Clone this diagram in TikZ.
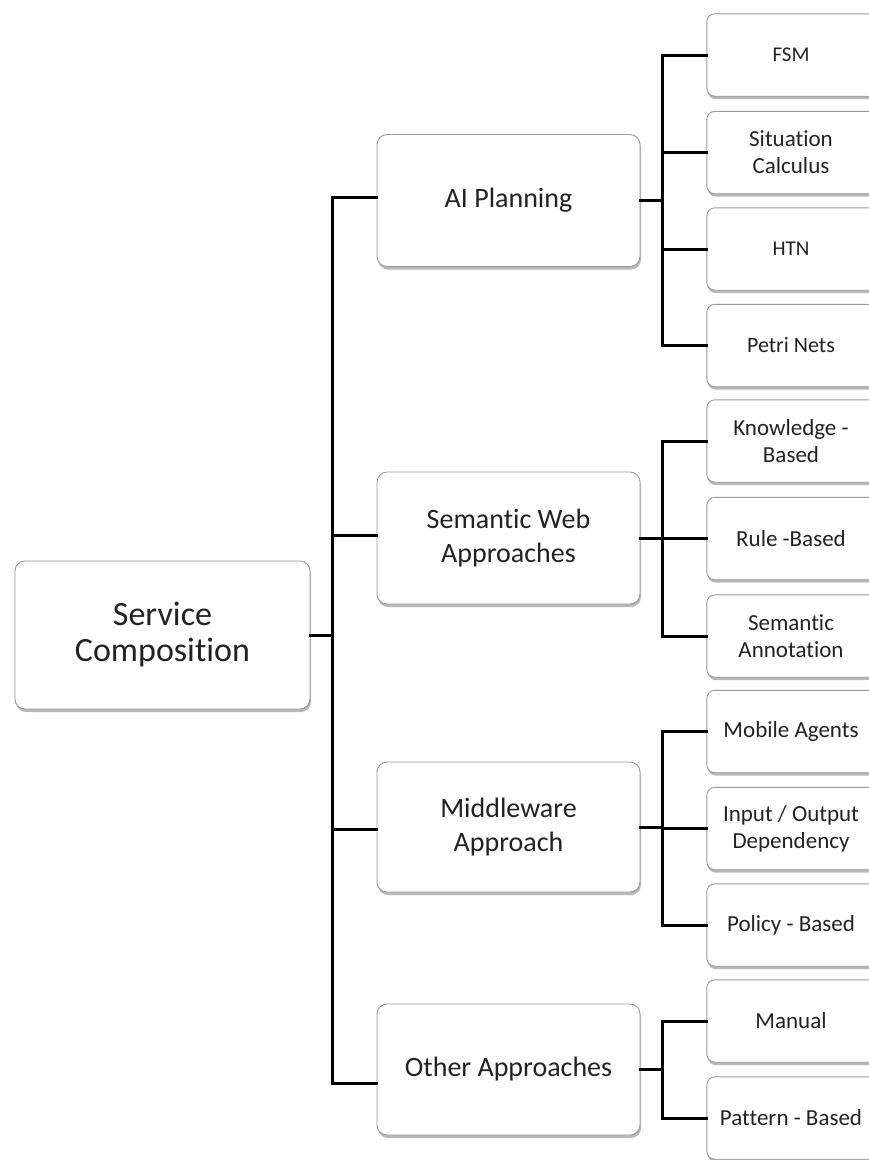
\documentclass[tikz,border=0pt]{standalone}
\usepackage{fontspec}
\setmainfont{Carlito}[Ligatures=NoCommon]
\usetikzlibrary{shadows,calc,backgrounds}
\definecolor{txt}{HTML}{222222}
\definecolor{edge}{HTML}{9A9A9A}
\begin{document}
\begin{tikzpicture}[x=1pt,y=-1pt,
  boxshape/.style={draw=edge, line width=0.9pt, fill=white, rounded corners=10pt,
    drop shadow={shadow xshift=1pt, shadow yshift=-3pt, fill=black, opacity=0.28}},
  box/.style={boxshape, align=center, text=txt, inner sep=2pt},
  topbox/.style={box, minimum width=295pt, minimum height=148pt,
    font=\fontsize{34}{36}\selectfont},
  midbox/.style={box, minimum width=263pt, minimum height=132pt,
    font=\fontsize{28}{34}\selectfont},
  leafbox/.style={align=center, text=txt, inner sep=2pt, minimum width=168pt, minimum height=82pt,
    font=\fontsize{23}{27}\selectfont},
  leafshape/.style={boxshape, rounded corners=8pt},
  conn/.style={draw=black, line width=3pt, line join=miter, line cap=rect}]
\clip (0,0) rectangle (869,1160);

% root
\node[topbox] (sc) at (162.5,635) {Service\\Composition};

% second level
\node[midbox] (ai) at (508.5,200.5) {AI Planning};
\node[midbox] (sw) at (508.5,538) {Semantic Web\\Approaches};
\node[midbox, minimum height=130pt] (mw) at (508.5,827) {Middleware\\Approach};
\node[midbox, minimum height=131pt] (ot) at (508.5,1069.5) {Other Approaches};

% leaves
\node[leafbox, font=\fontsize{21}{25}\selectfont] (fsm) at (791,55) {FSM};
\node[leafbox] (sit) at (791,152.5) {Situation\\Calculus};
\node[leafbox, font=\fontsize{21}{25}\selectfont] (htn) at (791,249) {HTN};
\node[leafbox, font=\fontsize{22}{26}\selectfont] (pet) at (791,345.5) {Petri Nets};
\node[leafbox] (kno) at (791,441) {Knowledge -\\Based};
\node[leafbox] (rul) at (791,538.5) {Rule -Based};
\node[leafbox] (sea) at (791,636) {Semantic\\Annotation};
\node[leafbox] (mob) at (791,731.5) {Mobile Agents};
\node[leafbox] (inp) at (791,828.5) {Input / Output\\Dependency};
\node[leafbox] (pol) at (791,925) {Policy - Based};
\node[leafbox] (man) at (791,1021) {Manual};
\node[leafbox] (pat) at (791,1118) {Pattern - Based};

\begin{scope}[on background layer]
  \fill[white] (0,0) rectangle (869,1160);
  \foreach \n in {fsm,sit,htn,pet,kno,rul,sea,mob,inp,pol,man,pat}
    \path[leafshape] (\n.north west) rectangle ([xshift=30pt]\n.south east);
\end{scope}

% trunk
\coordinate (t) at ($(sc.east)+(22,0)$);
\coordinate (a1) at ([yshift=3.5pt]ai.west);
\coordinate (s1) at ([yshift=3pt]sw.west);
\coordinate (m1) at ([yshift=-2pt]mw.west);
\coordinate (o1) at ([yshift=-13.5pt]ot.west);
\draw[conn] (sc.east) -- (t);
\draw[conn] (a1) -| (t);
\draw[conn] (o1) -| (t);
\draw[conn] (s1) -| (t);
\draw[conn] (m1) -| (t);

% forks
\coordinate (fa) at ($(ai.east)+(22,0)$);
\draw[conn] (ai.east) -- (fa);
\foreach \n in {fsm,sit,htn,pet} \draw[conn] (\n.west) -| (fa);

\coordinate (fs) at ($(sw.east)+(22,0)$);
\draw[conn] (sw.east) -- (fs);
\foreach \n in {kno,rul,sea} \draw[conn] (\n.west) -| (fs);

\coordinate (fm) at ($(mw.east)+(22,0)$);
\draw[conn] (mw.east) -- (fm);
\foreach \n in {mob,inp,pol} \draw[conn] (\n.west) -| (fm);

\coordinate (fo) at ($(ot.east)+(22,0)$);
\draw[conn] (ot.east) -- (fo);
\foreach \n in {man,pat} \draw[conn] (\n.west) -| (fo);
\end{tikzpicture}
\end{document}
